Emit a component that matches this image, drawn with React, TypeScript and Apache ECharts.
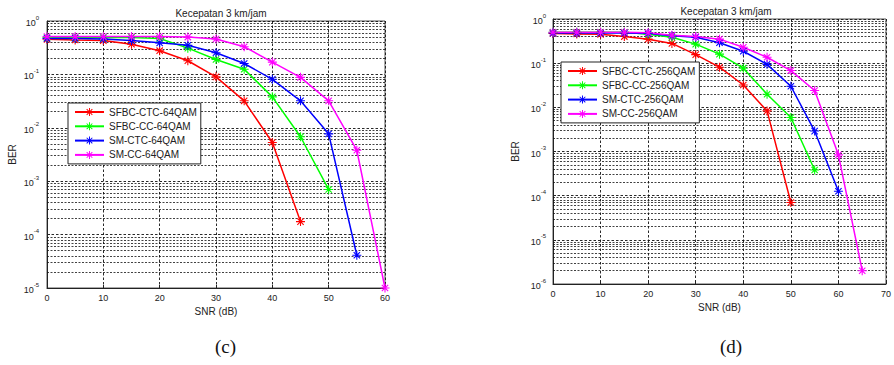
import React, { useEffect, useRef } from "react";
import * as echarts from "echarts";

// ---- data ----
const SNR = [0, 5, 10, 15, 20, 25, 30, 35, 40, 45, 50, 55, 60, 65];

const names64 = ["SFBC-CTC-64QAM", "SFBC-CC-64QAM", "SM-CTC-64QAM", "SM-CC-64QAM"];
const sfbcCtc64 = [0.454, 0.44, 0.43, 0.366, 0.278, 0.18, 0.09, 0.032, 0.0053, 1.75e-4];
const sfbcCc64 = [0.49, 0.49, 0.49, 0.49, 0.47, 0.31, 0.19, 0.125, 0.038, 0.0068, 7.0e-4];
const smCtc64 = [0.47, 0.47, 0.46, 0.43, 0.39, 0.35, 0.255, 0.16, 0.081, 0.032, 0.0077, 4.1e-5];
const smCc64 = [0.51, 0.51, 0.51, 0.51, 0.51, 0.5, 0.46, 0.33, 0.17, 0.088, 0.032, 0.0038, 1e-5];

const names256 = ["SFBC-CTC-256QAM", "SFBC-CC-256QAM", "SM-CTC-256QAM", "SM-CC-256QAM"];
const sfbcCtc256 = [0.47, 0.46, 0.45, 0.4, 0.35, 0.28, 0.156, 0.081, 0.032, 0.0083, 7.0e-5];
const sfbcCc256 = [0.5, 0.5, 0.5, 0.5, 0.45, 0.385, 0.27, 0.16, 0.077, 0.0198, 0.0059, 3.8e-4];
const smCtc256 = [0.48, 0.48, 0.48, 0.48, 0.47, 0.42, 0.385, 0.29, 0.186, 0.094, 0.03, 0.0029, 1.26e-4];
const smCc256 = [0.5, 0.5, 0.5, 0.5, 0.49, 0.43, 0.4, 0.35, 0.23, 0.136, 0.068, 0.024, 8.4e-4, 2.0e-6];

const colors = ["#ff0000", "#00ff00", "#0000ff", "#ff00ff"];
const title = "Kecepatan 3 km/jam";
const xName = "SNR (dB)";
const yName = "BER";
const captions = ["(c)", "(d)"];

const STAR =
  "path://M-10,-1.2L10,-1.2L10,1.2L-10,1.2Z" +
  "M-1.2,-10L1.2,-10L1.2,10L-1.2,10Z" +
  "M-6.22,-7.92L7.92,6.22L6.22,7.92L-7.92,-6.22Z" +
  "M7.92,-6.22L-6.22,7.92L-7.92,6.22L6.22,-7.92Z";

function minorValues(minExp: number): number[] {
  const out: number[] = [];
  for (let e = minExp; e < 0; e++) {
    for (let m = 2; m <= 9; m++) out.push(m * Math.pow(10, e));
  }
  return out;
}

export default function App() {
  const ref = useRef<HTMLDivElement>(null);
  useEffect(() => {
    if (!ref.current) return;
    const chart = echarts.init(ref.current, undefined, { renderer: "svg" });

    const grids = [
      { left: 47, top: 21, width: 338, height: 267 },
      { left: 553, top: 19, width: 337, height: 265 },
    ];
    const axisText = { color: "#222", fontFamily: "Liberation Sans, Arial", fontSize: 9 };

    const mkX = (i: number, max: number, gap: number) => ({
      type: "value",
      gridIndex: i,
      min: 0,
      max,
      interval: 10,
      name: xName,
      nameLocation: "middle",
      nameGap: gap,
      nameTextStyle: { color: "#222", fontFamily: "Liberation Sans, Arial", fontSize: 10 },
      axisLine: { lineStyle: { color: "#222", width: 1 } },
      axisTick: { show: true, inside: true, length: 3, lineStyle: { color: "#222" } },
      axisLabel: { ...axisText, margin: 5 },
      splitLine: { show: true, lineStyle: { color: "#111", width: 0.9, type: [2.5, 2] as any } },
    });
    const mkY = (i: number, min: number, gap: number, margin: number) => ({
      type: "log",
      logBase: 10,
      gridIndex: i,
      min,
      max: 1,
      name: yName,
      nameLocation: "middle",
      nameGap: gap,
      nameTextStyle: { color: "#222", fontFamily: "Liberation Sans, Arial", fontSize: 10 },
      axisLine: { show: true, lineStyle: { color: "#222", width: 1 } },
      axisTick: { show: true, inside: true, length: 3, lineStyle: { color: "#222" } },
      axisLabel: {
        margin,
        formatter: (v: number) => `{b|10}{s|${Math.round(Math.log10(v))}}`,
        rich: {
          b: { ...axisText, fontSize: 9, verticalAlign: "bottom", lineHeight: 13 },
          s: { ...axisText, fontSize: 6, verticalAlign: "top", lineHeight: 13 },
        },
      },
      splitLine: { show: true, lineStyle: { color: "#111", width: 0.9, type: [2.5, 2] as any } },
    });

    const mkSeries = (name: string, vals: number[], color: string, gi: number) => ({
      name,
      type: "line",
      xAxisIndex: gi,
      yAxisIndex: gi,
      data: vals.map((v, k) => [SNR[k], v]),
      symbol: STAR,
      symbolSize: 9,
      showAllSymbol: true,
      z: 3,
      lineStyle: { color, width: 1.5 },
      itemStyle: { color },
      emphasis: { disabled: true },
    });

    const mkMinor = (gi: number, minExp: number) => ({
      name: "minor" + gi,
      type: "line",
      xAxisIndex: gi,
      yAxisIndex: gi,
      data: [],
      z: 1,
      silent: true,
      markLine: {
        z: 1,
        silent: true,
        precision: 12,
        symbol: ["none", "none"],
        label: { show: false },
        lineStyle: { color: "#111", width: 0.8, type: [2, 1.5] as any },
        emphasis: { disabled: true },
        data: minorValues(minExp).map((v) => ({ yAxis: v })),
      },
    });

    const legendCommon = {
      orient: "vertical",
      z: 20,
      itemWidth: 29,
      itemHeight: 10,
      itemGap: 4.3,
      borderColor: "#222",
      borderWidth: 1,
      backgroundColor: "#fff",
      textStyle: { color: "#222", fontFamily: "Liberation Sans, Arial", fontSize: 10 },
      selectedMode: false,
    };

    chart.setOption({
      animation: false,
      backgroundColor: "#fff",
      title: [
        {
          text: title,
          left: 216,
          textAlign: "center",
          top: 3,
          textStyle: { color: "#222", fontFamily: "Liberation Sans, Arial", fontSize: 10, fontWeight: "normal" },
        },
        {
          text: title,
          left: 721,
          textAlign: "center",
          top: 1,
          textStyle: { color: "#222", fontFamily: "Liberation Sans, Arial", fontSize: 10, fontWeight: "normal" },
        },
      ],
      grid: grids.map((g) => ({ ...g, show: true, borderColor: "#555", borderWidth: 1, backgroundColor: "#fff" })),
      xAxis: [mkX(0, 60, 16), mkX(1, 70, 15)],
      yAxis: [mkY(0, 1e-5, 30, 8), mkY(1, 1e-6, 33, 7)],
      legend: [
        { ...legendCommon, data: names64, left: 68, top: 103, padding: [4, 4, 4, 6] },
        { ...legendCommon, data: names256, left: 561, top: 62, padding: [4, 4, 4, 6] },
      ],
      series: [
        mkMinor(0, -5),
        mkMinor(1, -6),
        mkSeries(names64[0], sfbcCtc64, colors[0], 0),
        mkSeries(names64[1], sfbcCc64, colors[1], 0),
        mkSeries(names64[2], smCtc64, colors[2], 0),
        mkSeries(names64[3], smCc64, colors[3], 0),
        mkSeries(names256[0], sfbcCtc256, colors[0], 1),
        mkSeries(names256[1], sfbcCc256, colors[1], 1),
        mkSeries(names256[2], smCtc256, colors[2], 1),
        mkSeries(names256[3], smCc256, colors[3], 1),
      ],
      graphic: [
        {
          type: "text",
          left: 215,
          top: 337,
          style: { text: captions[0], font: "19px 'Liberation Serif', 'Times New Roman', serif", fill: "#111", textAlign: "center" },
        },
        {
          type: "text",
          left: 720,
          top: 337,
          style: { text: captions[1], font: "19px 'Liberation Serif', 'Times New Roman', serif", fill: "#111", textAlign: "center" },
        },
      ],
    });
    return () => chart.dispose();
  }, []);
  return <div ref={ref} style={{ position: "fixed", left: 0, top: 0, width: 894, height: 365 }} />;
}
